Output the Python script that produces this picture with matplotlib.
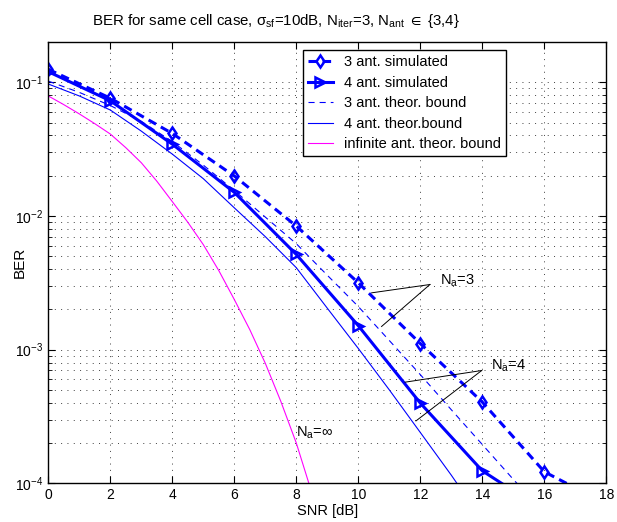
import numpy as np
import matplotlib
matplotlib.use("Agg")
import matplotlib.pyplot as plt

plt.rcParams['font.family'] = ['Liberation Sans', 'DejaVu Sans']
plt.rcParams['font.size'] = 10
plt.rcParams['mathtext.fontset'] = 'custom'
plt.rcParams['mathtext.rm'] = 'Liberation Sans'
plt.rcParams['mathtext.it'] = 'Liberation Sans:italic'
plt.rcParams['mathtext.default'] = 'regular'

# simulated points (every 2 dB)
snr_sim3 = [0, 2, 4, 6, 8, 10, 12, 14, 16, 18]
ber_sim3 = [0.125, 0.076, 0.0414, 0.0199, 0.0084, 0.00316, 0.00111, 4.05e-4, 1.22e-4, 7e-5]
snr_sim4 = [0, 2, 4, 6, 8, 10, 12, 14, 16]
ber_sim4 = [0.12, 0.0727, 0.0344, 0.0150, 0.00515, 0.00151, 3.98e-4, 1.24e-4, 6.2e-5]

# theoretical bounds (read every 1 dB / 0.5 dB)
snr_th3 = list(range(0, 17))
ber_th3 = [0.102, 0.084, 0.067, 0.051, 0.036, 0.024, 0.0155, 0.0098, 0.0062, 0.0036,
           0.0021, 0.00117, 6.5e-4, 3.55e-4, 1.95e-4, 1.07e-4, 6e-5]
snr_th4 = list(range(0, 15))
ber_th4 = [0.097, 0.079, 0.062, 0.0431, 0.029, 0.019, 0.0115, 0.0070, 0.0041, 0.00204,
           0.00102, 5.0e-4, 2.4e-4, 1.15e-4, 5.3e-5]
snr_inf = [0, 0.5, 1, 1.5, 2, 2.5, 3, 3.5, 4, 4.5, 5, 5.5, 6, 6.5, 7, 7.5, 8, 8.5, 9]
ber_inf = [0.079, 0.068, 0.058, 0.049, 0.041, 0.0324, 0.025, 0.0182, 0.0128, 8.97e-3,
           0.0061, 3.9e-3, 0.00237, 1.41e-3, 7.9e-4, 4.1e-4, 2.0e-4, 8.5e-5, 3.4e-5]

legend_labels = ["3 ant. simulated", "4 ant. simulated", "3 ant. theor. bound",
                 "4 ant. theor.bound", "infinite ant. theor. bound"]

# annotation anchors: (apex, end1, end2, text pos)
na3 = dict(apex=(12.31, 3.07e-3), ends=[(10.43, 2.66e-3), (10.75, 1.49e-3)], txt=(12.62, 3.3e-3))
na4 = dict(apex=(13.98, 6.98e-4), ends=[(11.51, 5.71e-4), (11.86, 2.93e-4)], txt=(14.28, 7.6e-4))
nainf_txt = (7.98, 2.4e-4)

fig = plt.figure(figsize=(6.17, 5.22), dpi=100)
ax = fig.add_axes([0.0783, 0.0741, 0.9044, 0.8454])

blue = (0, 0, 1)
ax.semilogy(snr_sim3, ber_sim3, '--d', color=blue, lw=2.2, ms=6.5, mew=1.8,
            mfc='none', dashes=(2.8, 1.8), label=legend_labels[0])
ax.semilogy(snr_sim4, ber_sim4, '->', color=blue, lw=2.2, ms=7, mew=1.8,
            mfc='none', label=legend_labels[1])
ax.semilogy(snr_th3, ber_th3, '--', color=blue, lw=0.8, dashes=(5.5, 4.5), label=legend_labels[2])
ax.semilogy(snr_th4, ber_th4, '-', color=blue, lw=0.8, label=legend_labels[3])
ax.semilogy(snr_inf, ber_inf, '-', color=(1, 0, 1), lw=0.8, label=legend_labels[4])

for ann in (na3, na4):
    for end in ann['ends']:
        ax.plot([ann['apex'][0], end[0]], [ann['apex'][1], end[1]], color='k', lw=0.7)
ax.text(*na3['txt'], r'N$_{\rm a}$=3', ha='left', va='center', fontsize=10.5)
ax.text(*na4['txt'], r'N$_{\rm a}$=4', ha='left', va='center', fontsize=10.5)
ax.text(*nainf_txt, r'N$_{\rm a}$=$\infty$', ha='left', va='center', fontsize=10.5)

ax.set_xlim(0, 18)
ax.set_ylim(1e-4, 0.2)
ax.set_xticks(range(0, 19, 2))
grid_kw = dict(linestyle=(0, (1, 5.5)), color='0.25', lw=0.7)
ax.grid(True, which='major', **grid_kw)
ax.grid(True, which='minor', axis='y', **grid_kw)
ax.tick_params(which='both', direction='in', top=True, right=True)
ax.tick_params(which='major', length=5)
ax.tick_params(which='minor', length=3)
for s in ax.spines.values():
    s.set_linewidth(1.0)

ax.set_xlabel("SNR [dB]", labelpad=1, fontsize=10.5)
ax.set_ylabel("BER", fontsize=11)
ax.yaxis.set_label_coords(-0.038, 0.5)
ax.set_title(r'BER for same cell case, $\sigma_{\rm sf}$=10dB, N$_{\rm iter}$=3, N$_{\rm ant}$ $\in$ {3,4}',
             pad=12, fontsize=10.8, x=0.408)

leg = ax.legend(loc='upper left', bbox_to_anchor=(0.456, 0.982), borderaxespad=0,
                fancybox=False, framealpha=1, edgecolor='k', handlelength=1.7,
                handletextpad=0.8, labelspacing=0.45, fontsize=10.5, borderpad=0.35)
leg.get_frame().set_linewidth(1.0)

fig.savefig("out.png", dpi=100)
